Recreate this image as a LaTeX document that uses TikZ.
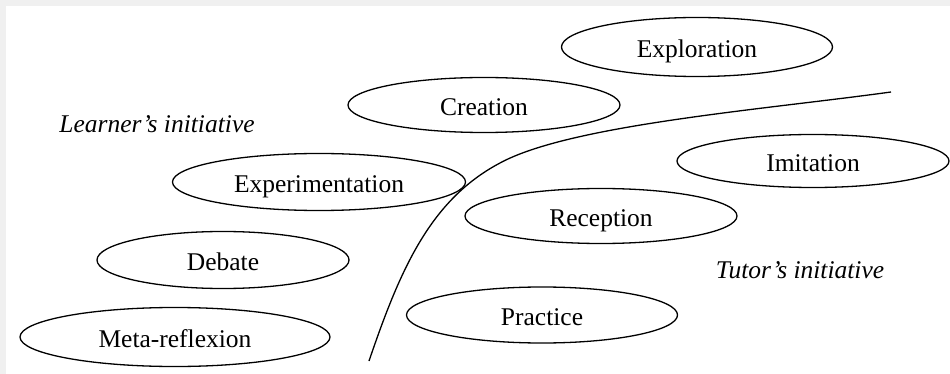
\documentclass[tikz,border=0pt]{standalone}
\usepackage{fontspec}
\setmainfont{Liberation Serif}
\usetikzlibrary{shapes.geometric}
\definecolor{framegray}{HTML}{F0F0F0}

\begin{document}
\begin{tikzpicture}[
      x=1pt, y=-1pt,
      every node/.style={font=\fontsize{25.5}{30}\selectfont},
      activity/.style={ellipse, draw, line width=1.3pt, inner sep=0pt,
                       text height=21.6pt, text depth=0pt,
                       minimum width=272pt, minimum height=56pt},
      side/.style={font=\fontsize{25.5}{30}\selectfont\itshape}
    ]
    % fond et cadre
    \fill[framegray] (0,0) rectangle (950,374);
    \fill[white] (6,6) rectangle (950,374);
    \useasboundingbox (0,0) rectangle (950,374);

    % initiative de l'apprenant
    \node[activity, minimum width=271pt, minimum height=59pt] (exploration) at (697,47) {Exploration};
    \node[activity, minimum height=55pt] (creation) at (484,105) {Creation};
    \node[activity, minimum width=293pt, minimum height=57pt] (experimentation) at (319,182) {Experimentation};
    \node[activity, minimum width=252pt, minimum height=57pt] (debate) at (223,260) {Debate};
    \node[activity, minimum width=310pt, minimum height=59pt] (metareflexion) at (175,337) {Meta-reflexion};

    % initiative du tuteur
    \node[activity, minimum height=53pt] (imitation) at (813,161) {Imitation};
    \node[activity, minimum height=55pt] (reception) at (601,216) {Reception};
    \node[activity, minimum width=271pt] (practice) at (542,315) {Practice};

    \node[side] (learner) at (157,124) {Learner’s initiative};
    \node[side] (tutor) at (800,270) {Tutor’s initiative};

    % frontière
    \coordinate (bottom) at (369,361);
    \coordinate (bend) at (500,163);
    \coordinate (top) at (891,92);
    \draw[line width=1.3pt] (bottom) .. controls (400,270) and (430,200) .. (bend)
      .. controls (570,125) and (760,110) .. (top);
  \end{tikzpicture}
\end{document}
